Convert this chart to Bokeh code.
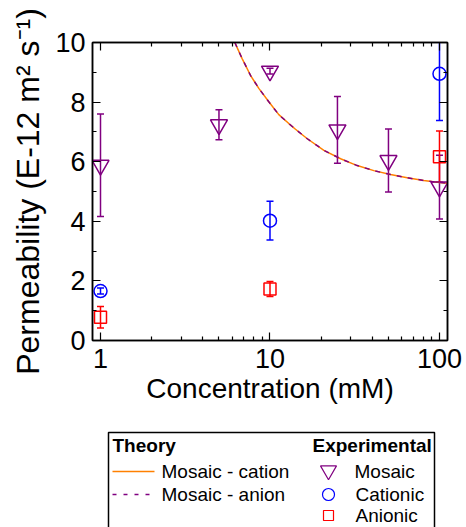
from bokeh.plotting import figure
from bokeh.models import (Range1d, LogAxis, LinearAxis, FixedTicker, PrintfTickFormatter,
                          CustomJSTickFormatter, Whisker, ColumnDataSource, TeeHead)
from bokeh.layouts import column
from bokeh.embed import file_html
from bokeh.resources import INLINE
from bokeh.core.properties import value

# ---------------- data ----------------
conc_mosaic = [1, 5, 10, 25, 50, 100]
perm_mosaic = [5.88, 7.24, 9.04, 7.07, 6.04, 5.15]
err_mosaic = [1.72, 0.50, 0.10, 1.12, 1.06, 1.07]

conc_cationic = [1, 10, 100]
perm_cationic = [1.66, 4.02, 8.95]
err_cationic = [0.10, 0.65, 1.57]

conc_anionic = [1, 10, 100]
perm_anionic = [0.78, 1.73, 6.17]
err_anionic = [0.36, 0.25, 0.86]

theory_conc = [6.2, 6.85, 7.67, 8.59, 9.84, 11.27, 12.91, 14.14, 16.6, 20.8,
               26.1, 32.7, 41.0, 51.4, 64.5, 80.8, 96.9, 111.0]
theory_cation = [10.0, 9.46, 8.90, 8.46, 8.01, 7.58, 7.28, 7.09, 6.77, 6.38,
                 6.10, 5.87, 5.70, 5.57, 5.46, 5.37, 5.31, 5.28]
theory_anion = [10.0, 9.46, 8.90, 8.46, 8.01, 7.58, 7.28, 7.09, 6.77, 6.38,
                6.10, 5.87, 5.70, 5.57, 5.46, 5.37, 5.31, 5.28]

x_major = [1, 10, 100]
x_minor = [2, 3, 4, 5, 6, 7, 8, 9, 20, 30, 40, 50, 60, 70, 80, 90]
y_major = [0, 2, 4, 6, 8, 10]
y_minor = [1, 3, 5, 7, 9]

# ---------------- styles ----------------
FONT = "Liberation Sans"
PURPLE = "#800080"
BLUE = "#0000FF"
RED = "#FF0000"
ORANGE = "#FF8000"

W = 466
MB_LEFT, MB_RIGHT = 92, 19
MAIN_H = 425

p = figure(width=W, height=MAIN_H, x_axis_type="log",
           x_range=Range1d(0.897, 111.5), y_range=Range1d(0, 10),
           output_backend="svg", toolbar_location=None,
           min_border_left=MB_LEFT, min_border_top=42, min_border_right=MB_RIGHT,
           min_border_bottom=85)
p.grid.visible = False
p.outline_line_color = "black"
p.outline_line_width = 1.5
p.background_fill_color = "white"
p.border_fill_color = "white"

p.add_layout(LogAxis(), "above")
p.add_layout(LinearAxis(), "right")

for ax in p.xaxis:
    ax.ticker = FixedTicker(ticks=x_major, minor_ticks=x_minor)
for ax in p.yaxis:
    ax.ticker = FixedTicker(ticks=y_major, minor_ticks=y_minor)

for ax in p.axis:
    ax.axis_line_color = "black"
    ax.axis_line_width = 1.5
    ax.major_tick_in = 8
    ax.major_tick_out = 0
    ax.minor_tick_in = 4
    ax.minor_tick_out = 0
    ax.major_tick_line_width = 1.2
    ax.minor_tick_line_width = 1.2
    ax.major_tick_line_color = "black"
    ax.minor_tick_line_color = "black"
    ax.major_label_text_font = FONT
    ax.major_label_text_font_size = "27px"
    ax.major_label_text_color = "black"

bottom = p.below[0]
left = p.left[0]
top = p.above[0]
right = p.right[0]

bottom.formatter = PrintfTickFormatter(format="%d")
bottom.major_label_standoff = 8
bottom.axis_label = "Concentration (mM)"
bottom.axis_label_text_font = FONT
bottom.axis_label_text_font_size = "28px"
bottom.axis_label_text_font_style = "normal"
bottom.axis_label_text_color = "black"
bottom.axis_label_standoff = 2

left.major_label_standoff = 7
left.axis_label = "Permeability (E-12 m\u00b2 s\u207b\u00b9)"
left.axis_label_text_font = FONT
left.axis_label_text_font_size = "32px"
left.axis_label_text_font_style = "normal"
left.axis_label_text_color = "black"
left.axis_label_standoff = 6

for ax in (top, right):
    ax.formatter = CustomJSTickFormatter(code="return ''")
    ax.major_label_text_font_size = "1px"
    ax.major_label_standoff = 0

# theory curves
p.line(theory_conc, theory_cation, line_color=ORANGE, line_width=1.5)
p.line(theory_conc, theory_anion, line_color=PURPLE, line_width=1.5, line_dash="5 6")


def add_series(xs, ys, es, marker, size, color):
    src = ColumnDataSource(dict(x=xs, y=ys,
                                upper=[y + e for y, e in zip(ys, es)],
                                lower=[y - e for y, e in zip(ys, es)]))
    p.scatter("x", "y", source=src, marker=marker, size=size,
              fill_color=None, line_color=color, line_width=1.5)
    p.add_layout(Whisker(source=src, base="x", upper="upper", lower="lower",
                         dimension="height", line_color=color, line_width=1.5,
                         upper_head=TeeHead(size=7, line_color=color, line_width=1.5),
                         lower_head=TeeHead(size=7, line_color=color, line_width=1.5)))


add_series(conc_mosaic, perm_mosaic, err_mosaic, "inverted_triangle", 17, PURPLE)
add_series(conc_cationic, perm_cationic, err_cationic, "circle", 13, BLUE)
add_series(conc_anionic, perm_anionic, err_anionic, "square", 12, RED)

# ---------------- legend panel (coordinates in page pixels) ----------------
LEG_TOP, LEG_H = MAIN_H, 527 - MAIN_H
leg = figure(width=W, height=LEG_H,
             x_range=Range1d(MB_LEFT, W - MB_RIGHT),
             y_range=Range1d(LEG_TOP + LEG_H, LEG_TOP),
             output_backend="svg", toolbar_location=None,
             min_border_left=MB_LEFT, min_border_right=MB_RIGHT,
             min_border_top=0, min_border_bottom=0,
             x_axis_location=None, y_axis_location=None)
leg.grid.visible = False
leg.outline_line_color = None
leg.background_fill_color = "white"
leg.border_fill_color = "white"

leg.line([108, 108, 434, 434], [560, 432, 432, 560], line_color="black", line_width=1.5)

hdr_kw = dict(text_font=value(FONT), text_font_size="19px", text_font_style="bold",
              text_baseline="middle", text_align="left", text_color="black")
txt_kw = dict(text_font=value(FONT), text_font_size="19px",
              text_baseline="middle", text_align="left", text_color="black")

leg.text(x=[112], y=[445], text=["Theory"], **hdr_kw)
leg.text(x=[312], y=[445], text=["Experimental"], **hdr_kw)

leg.line([112, 154], [471, 471], line_color=ORANGE, line_width=1.5)
leg.line([112, 154], [494, 494], line_color=PURPLE, line_width=1.5, line_dash="4 7")
leg.text(x=[161, 161], y=[471, 494], text=["Mosaic - cation", "Mosaic - anion"], **txt_kw)

leg.scatter([328], [470], marker="inverted_triangle", size=16, fill_color=None,
            line_color=PURPLE, line_width=1.2)
leg.scatter([328], [494], marker="circle", size=12, fill_color=None,
            line_color=BLUE, line_width=1.2)
leg.scatter([328], [515], marker="square", size=10, fill_color=None,
            line_color=RED, line_width=1.2)
leg.text(x=[354, 355, 355], y=[471, 494, 515], text=["Mosaic", "Cationic", "Anionic"], **txt_kw)

root = column(p, leg, spacing=0)

open("out.html", "w").write(file_html(root, INLINE))
